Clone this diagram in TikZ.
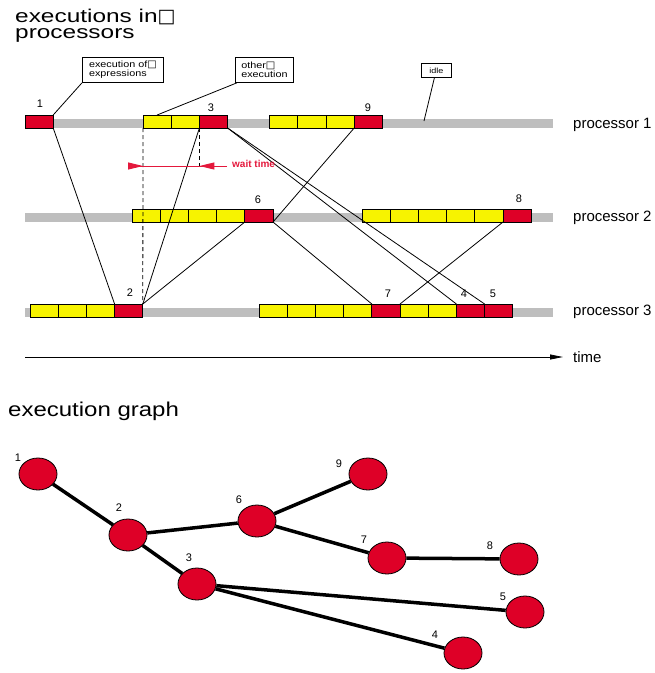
\documentclass[tikz,border=0pt]{standalone}
\usepackage{fontspec}
\setmainfont{Liberation Sans}
\newfontfamily\widefont[FakeStretch=1.2]{Liberation Sans}
\newfontfamily\titlefont[FakeStretch=1.32]{Liberation Sans}
\newfontfamily\symfont{DejaVu Sans}
\usetikzlibrary{shapes.geometric,arrows.meta}
\definecolor{cellred}{HTML}{DE0027}
\definecolor{cellyellow}{HTML}{F7F300}
\definecolor{idlegray}{HTML}{BEBEBE}
\definecolor{waitred}{HTML}{E4183C}
\tikzset{
  cell/.style={draw=black, line width=0.9pt, minimum width=28.2pt, minimum height=13pt,
    inner sep=0pt, outer sep=0pt, anchor=south west},
  ycell/.style={cell, fill=cellyellow},
  rcell/.style={cell, fill=cellred},
  bar/.style={fill=idlegray, draw=none},
  link/.style={line width=0.8pt},
  dashlink/.style={line width=0.8pt, dash pattern=on 4pt off 3pt},
  note/.style={draw, line width=0.8pt, inner sep=0pt, align=left, anchor=north west,
    font=\widefont\fontsize{9}{9.5}\selectfont},
  num/.style={font=\fontsize{11}{11}\selectfont, inner sep=0pt},
  plabel/.style={font=\fontsize{15}{15}\selectfont, anchor=base west, inner sep=0pt},
  heading/.style={font=\titlefont\fontsize{18.5}{16}\selectfont, anchor=base west,
    inner sep=0pt, align=left},
  waitline/.style={draw=waitred, line width=1pt},
  gnode/.style={ellipse, draw, line width=0.8pt, fill=cellred, minimum width=38pt,
    minimum height=32pt, inner sep=0pt},
  gedge/.style={line width=3.5pt},
  glabel/.style={font=\fontsize{11}{11}\selectfont, inner sep=0pt},
}
\newcommand{\boxglyph}[1]{{\symfont\fontsize{#1}{#1}\selectfont □}}
\begin{document}
\begin{tikzpicture}[x=1pt,y=-1pt]
\useasboundingbox (0,0) rectangle (655,673);

% heading (two lines, anchored at the baseline of the last one)
\node[heading] (title) at (15,38.5) {executions in\boxglyph{19}\\processors};

% idle bars of the three processors
\fill[bar] (25,119) rectangle (553,128);
\fill[bar] (25,213) rectangle (553,222);
\fill[bar] (25,308) rectangle (553,317);

% processor 1
\node[rcell] (c1) at (25,128) {};
\foreach \x [count=\i] in {143,171.2} \node[ycell] (p1a\i) at (\x,128) {};
\node[rcell] (c3) at (199.4,128) {};
\foreach \x [count=\i] in {269.6,297.8,326} \node[ycell] (p1b\i) at (\x,128) {};
\node[rcell] (c9) at (354.2,128) {};

% processor 2
\foreach \x [count=\i] in {132,160.2,188.4,216.6} \node[ycell] (p2a\i) at (\x,222) {};
\node[rcell] (c6) at (244.8,222) {};
\foreach \x [count=\i] in {362,390.2,418.4,446.6,474.8} \node[ycell] (p2b\i) at (\x,222) {};
\node[rcell] (c8) at (503,222) {};

% processor 3
\foreach \x [count=\i] in {30,58.2,86.4} \node[ycell] (p3a\i) at (\x,317) {};
\node[rcell] (c2) at (114.6,317) {};
\foreach \x [count=\i] in {259,287.2,315.4,343.6} \node[ycell] (p3b\i) at (\x,317) {};
\node[rcell] (c7) at (371.8,317) {};
\foreach \x [count=\i] in {400,428.2} \node[ycell] (p3c\i) at (\x,317) {};
\node[rcell] (c4) at (456.4,317) {};
\node[rcell] (c5) at (484.6,317) {};

% execution numbers
\node[num] (n1) at (40,104) {1};
\node[num] (n3) at (211,108) {3};
\node[num] (n9) at (368,108) {9};
\node[num] (n6) at (258,200) {6};
\node[num] (n8) at (519,199) {8};
\node[num] (n2) at (130,293) {2};
\node[num] (n7) at (388,294) {7};
\node[num] (n4) at (464,294) {4};
\node[num] (n5) at (493,294) {5};

% processor names and time axis
\node[plabel] (proc1) at (573,128) {processor 1};
\node[plabel] (proc2) at (573,221) {processor 2};
\node[plabel] (proc3) at (573,315) {processor 3};
\coordinate (t0) at (25,357);
\coordinate (t1) at (563,357);
\draw[link, -{Triangle[length=13pt,width=5pt]}] (t0) -- (t1);
\node[plabel] (timelbl) at (573,362) {time};

% data dependencies between executions
\draw[link] (c1.south east) -- (c2.north west);
\draw[link] (c2.north east) -- (c3.south west);
\draw[link] (c2.north east) -- (c6.south west);
\draw[link] (c6.south east) -- (c9.south west);
\draw[link] (c6.south east) -- (c7.north west);
\draw[link] (c8.south west) -- (c7.north east);
\draw[link] (c3.south east) -- (c4.north west);
\draw[link] (c3.south east) -- (c5.north west);

% waiting time of execution 3
\coordinate (wl) at (128,166);
\coordinate (wr) at (227,166);
\draw[dashlink] (p1a1.south west) -- (c2.north east);
\draw[dashlink] (c3.south west) -- (c3.south west |- 0,167);
\draw[waitline] (wl) -- (wr);
\draw[waitline, -{Triangle[length=15pt,width=7pt]}] (wl) -- (wl -| p1a1.west);
\draw[waitline, -{Triangle[length=15pt,width=7pt]}] (wr) -- (wr -| c3.west);
\node[font=\bfseries\fontsize{10}{10}\selectfont, text=waitred, anchor=base west, inner sep=0pt]
  (waitlbl) at (232,167) {wait time};

% callouts
\node[note, minimum width=81pt, minimum height=25pt] (noteexpr) at (82,57)
  {execution of\boxglyph{10}\\expressions};
\node[note, minimum width=58pt, minimum height=25pt] (noteother) at (235,57)
  {other\boxglyph{10}\\execution};
\node[note, minimum width=30pt, minimum height=14pt, align=center,
  font=\widefont\fontsize{7.5}{8}\selectfont] (noteidle) at (421,63) {idle};
\coordinate (idlept) at (424,121);
\draw[link] (noteexpr.south west) -- (c1.north east);
\draw[link] ([xshift=2pt]noteother.south west) -- (p1a1.north);
\draw[link] ([xshift=-2pt]noteidle.south) -- (idlept);

% execution graph
\node[heading, font=\widefont\fontsize{20}{20}\selectfont] (gtitle) at (8,416) {execution graph};
\node[gnode] (g1) at (38,474) {};
\node[gnode] (g2) at (128,535) {};
\node[gnode] (g3) at (197,584) {};
\node[gnode] (g6) at (257,521) {};
\node[gnode] (g9) at (368,474) {};
\node[gnode] (g7) at (387,558) {};
\node[gnode] (g8) at (519,559) {};
\node[gnode] (g5) at (525,612) {};
\node[gnode] (g4) at (463,653) {};
\draw[gedge] (g1) -- (g2);
\draw[gedge] (g2) -- (g6);
\draw[gedge] (g2) -- (g3);
\draw[gedge] (g6) -- (g9);
\draw[gedge] (g6) -- (g7);
\draw[gedge] (g7) -- (g8);
\draw[gedge] (g3) -- (g5);
\draw[gedge] (g3) -- (g4);
\node[glabel] (l1) at (18,458) {1};
\node[glabel] (l2) at (119,508) {2};
\node[glabel] (l6) at (239,500) {6};
\node[glabel] (l3) at (189,558) {3};
\node[glabel] (l9) at (339,464) {9};
\node[glabel] (l7) at (364,540) {7};
\node[glabel] (l8) at (490,546) {8};
\node[glabel] (l5) at (503,597) {5};
\node[glabel] (l4) at (435,635) {4};
\end{tikzpicture}
\end{document}
